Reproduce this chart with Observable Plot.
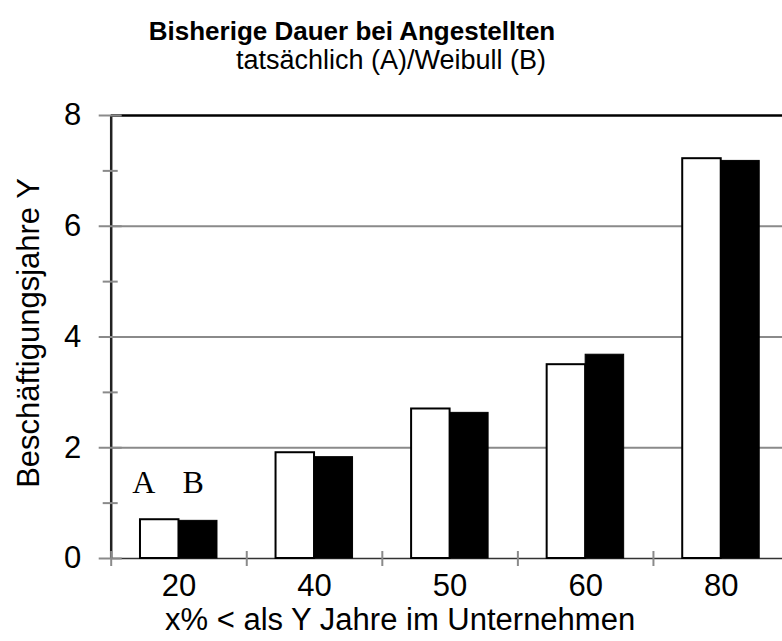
<!DOCTYPE html>
<html>
<head>
<meta charset="utf-8">
<script src="https://cdn.jsdelivr.net/npm/d3@7"></script>
<script src="https://cdn.jsdelivr.net/npm/@observablehq/plot@0.6"></script>
<style>
  html, body { margin: 0; padding: 0; background: #fff; overflow: hidden; }
  #wrap { position: relative; width: 782px; height: 641px; }
  #head { position: relative; width: 782px; height: 80px; font-family: "Liberation Sans", Arial, sans-serif; color: #000; }
  .t { position: absolute; white-space: nowrap; transform: translateX(-50%); line-height: 1; }
  #title { left: 352px; top: 18px; font-size: 26px; font-weight: bold; }
  #subtitle { left: 391px; top: 47px; font-size: 27px; }
</style>
</head>
<body>
<div id="wrap">
  <div id="head">
    <div class="t" id="title">Bisherige Dauer bei Angestellten</div>
    <div class="t" id="subtitle">tatsächlich (A)/Weibull (B)</div>
  </div>
  <div id="chart"></div>
</div>
<script>
const categories = ["20", "40", "50", "60", "80"];
const tatsaechlich = [0.70, 1.91, 2.70, 3.50, 7.22];   // A
const weibull = [0.68, 1.83, 2.63, 3.68, 7.18];        // B
const yTicks = [0, 2, 4, 6, 8];
const yMinorTicks = [1, 3, 5, 7];
const gridValues = [2, 4, 6];
const topValue = [8];
const seriesLabels = ["A", "B"];
const labelValue = 1.37;
const xTitle = "x% < als Y Jahre im Unternehmen";
const yTitle = "Beschäftigungsjahre Y";

const barW = 0.284; // bar width in category units
const rows = categories.map((c, i) => ({i, cat: c, a: tatsaechlich[i], b: weibull[i]}));
const boundaries = d3.range(categories.length + 1);

const font = "'Liberation Sans', Arial, sans-serif";

const chart = Plot.plot({
  width: 782,
  height: 561,
  marginTop: 35,
  marginBottom: 83,
  marginLeft: 110.7,
  marginRight: -6.5,
  style: {fontFamily: font, fontSize: "31px", color: "#000", background: "#fff", overflow: "visible"},
  x: {
    type: "linear",
    domain: [0, categories.length],
    ticks: categories.map((c, i) => i + 0.5),
    tickFormat: (d) => categories[Math.round(d - 0.5)],
    tickSize: 0,
    tickPadding: 15,
    label: null
  },
  y: {
    domain: [0, 8],
    ticks: yTicks,
    tickSize: 0,
    tickPadding: 30,
    label: null
  },
  marks: [
    Plot.ruleY(gridValues, {stroke: "#8a8a8a", strokeWidth: 2}),
    Plot.ruleY(topValue, {stroke: "#000", strokeWidth: 2.5}),
    Plot.ruleY([0], {stroke: "#333", strokeWidth: 1.6}),
    Plot.ruleX([0], {y1: 0, y2: 8, stroke: "#222", strokeWidth: 2.5}),
    Plot.ruleY(yTicks, {x1: 0, x2: 0, insetLeft: -12, insetRight: -11, stroke: "#8a8a8a", strokeWidth: 2}),
    Plot.ruleY(yMinorTicks, {x1: 0, x2: 0, insetLeft: -8, insetRight: -7, stroke: "#8a8a8a", strokeWidth: 2}),
    Plot.ruleX(boundaries, {y1: 0, y2: 0, insetTop: -7, insetBottom: -8, stroke: "#8a8a8a", strokeWidth: 2}),
    Plot.rectY(rows, {x1: d => d.i + 0.5 - barW, x2: d => d.i + 0.5, y1: 0, y2: "a", fill: "#fff", stroke: "#000", strokeWidth: 2}),
    Plot.rectY(rows, {x1: d => d.i + 0.5, x2: d => d.i + 0.5 + barW, y1: 0, y2: "b", fill: "#000", stroke: "#000", strokeWidth: 1}),
    Plot.text([seriesLabels[0]], {x: 0.5 - barW / 2, y: labelValue, text: d => d, dx: -16, fontFamily: "'Liberation Serif', 'Times New Roman', serif", fontSize: 32, fill: "#000"}),
    Plot.text([seriesLabels[1]], {x: 0.5 + barW / 2, y: labelValue, text: d => d, dx: -5, fontFamily: "'Liberation Serif', 'Times New Roman', serif", fontSize: 32, fill: "#000"}),
    Plot.text([xTitle], {frameAnchor: "bottom", lineAnchor: "middle", textAnchor: "middle", text: d => d, dx: -50, dy: 62, fontSize: 31, fontFamily: font, fill: "#000"}),
    Plot.text([yTitle], {frameAnchor: "left", lineAnchor: "middle", textAnchor: "middle", text: d => d, rotate: -90, dx: -82, dy: -4, fontSize: 31, fontFamily: font, fill: "#000"})
  ]
});
document.getElementById("chart").appendChild(chart);
</script>
</body>
</html>
